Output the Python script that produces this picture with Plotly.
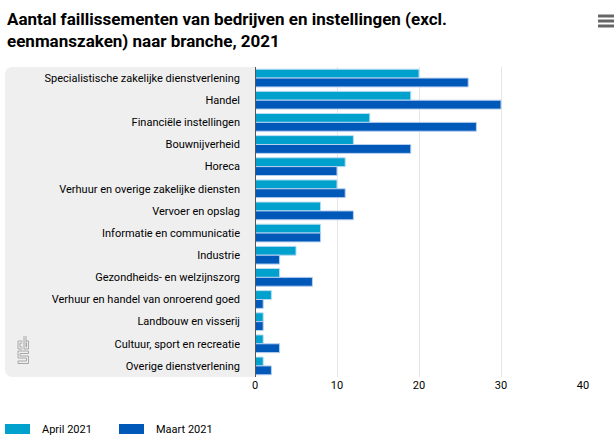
import plotly.graph_objects as go

categories = [
    "Specialistische zakelijke dienstverlening",
    "Handel",
    "Financiële instellingen",
    "Bouwnijverheid",
    "Horeca",
    "Verhuur en overige zakelijke diensten",
    "Vervoer en opslag",
    "Informatie en communicatie",
    "Industrie",
    "Gezondheids- en welzijnszorg",
    "Verhuur en handel van onroerend goed",
    "Landbouw en visserij",
    "Cultuur, sport en recreatie",
    "Overige dienstverlening",
]
april_2021 = [20, 19, 14, 12, 11, 10, 8, 8, 5, 3, 2, 1, 1, 1]
maart_2021 = [26, 30, 27, 19, 10, 11, 12, 8, 3, 7, 1, 1, 3, 2]
x_ticks = [0, 10, 20, 30, 40]
series_names = ["April 2021", "Maart 2021"]
series_colors = ["#00a1cd", "#0058b8"]

FONT = "Liberation Sans Narrow, Roboto, sans-serif"
W, H = 615, 442
L, R, T, B = 255, 32, 67, 65
pw = W - L - R
ph = H - T - B

def px(x):
    return (x - L) / pw

def py(y):
    return 1 - (y - T) / ph

fig = go.Figure()
for name, vals, col, edge in zip(series_names, [april_2021, maart_2021],
                                 series_colors, ["#b8dcf2", "#b8d0f0"]):
    fig.add_trace(go.Bar(
        y=categories, x=vals, name=name, orientation="h", showlegend=False,
        marker=dict(color=col, line=dict(color=edge, width=1)),
    ))

shapes = []
# grey label panel with rounded left corners
x0, x1 = px(5), px(255)
y0, y1 = py(377), py(67)
rx = 8 / pw
ry = 8 / ph
path = (f"M {x1},{y1} L {x0+rx},{y1} Q {x0},{y1} {x0},{y1-ry} "
        f"L {x0},{y0+ry} Q {x0},{y0} {x0+rx},{y0} L {x1},{y0} Z")
shapes.append(dict(type="path", path=path, xref="paper", yref="paper",
                   fillcolor="#efefef", line=dict(width=0), layer="below"))
# cbs logo (approximation)
lc = "#a8a8a8"
def poly(pts, width=1):
    d = "M " + " L ".join(f"{px(a)},{py(b)}" for a, b in pts)
    shapes.append(dict(type="path", path=d, xref="paper", yref="paper",
                       line=dict(color=lc, width=width)))
# c
poly([(22.5, 341), (18, 341), (18, 349), (22.5, 349)])
poly([(22.5, 343), (20, 343), (20, 347), (22.5, 347)])
# b
poly([(24, 336), (24, 349), (28.5, 349), (28.5, 341), (26, 341)])
poly([(26, 336), (26, 347), (26.5, 347), (26.5, 343)])
# s
poly([(28.5, 351), (18, 351), (18, 358), (26.5, 358), (26.5, 361), (18, 361), (18, 363.5), (28.5, 363.5), (28.5, 356), (20, 356), (20, 353.5), (28.5, 353.5), (28.5, 351)])
# left axis line
shapes.append(dict(type="line", xref="x", yref="paper", x0=0, x1=0, y0=0, y1=1,
                   line=dict(color="#555555", width=2)))
# hamburger menu
for yy in (16, 21, 26):
    shapes.append(dict(type="line", xref="paper", yref="paper",
                       x0=px(598), x1=px(614), y0=py(yy), y1=py(yy),
                       line=dict(color="#666666", width=3)))
# legend swatches
legend_x = [5, 119]
for lx, nm, col in zip(legend_x, series_names, series_colors):
    shapes.append(dict(type="rect", xref="paper", yref="paper",
                       x0=px(lx), x1=px(lx + 25), y0=py(434), y1=py(424),
                       fillcolor=col, line=dict(width=0)))

fig.update_layout(
    width=W, height=H,
    margin=dict(l=L, r=R, t=T, b=B, autoexpand=False),
    paper_bgcolor="white", plot_bgcolor="white",
    font=dict(family=FONT, size=11, color="#000000"),
    barmode="group", bargap=0.2, bargroupgap=0.0,
    showlegend=False,
    xaxis=dict(range=[0, 40], tickvals=x_ticks, showgrid=True, automargin=False,
               gridcolor="#e6e6e6", gridwidth=1, zeroline=False,
               ticks="", tickfont=dict(size=11, color="#000000"), fixedrange=True),
    yaxis=dict(autorange="reversed", showgrid=False, ticks="", ticklabelstandoff=14,
               automargin=False,
               tickfont=dict(size=11, color="#000000"), fixedrange=True),
    shapes=shapes,
)
for lx, nm in zip(legend_x, series_names):
    fig.add_annotation(text=nm, xref="paper", yref="paper", x=px(lx + 35), y=py(429),
                       xanchor="left", yanchor="middle", showarrow=False,
                       font=dict(family=FONT, size=11, color="#000000"))
fig.add_annotation(
    text="<b>Aantal faillissementen van bedrijven en instellingen (excl.<br>eenmanszaken) naar branche, 2021</b>",
    xref="paper", yref="paper", x=px(5), y=py(7), xanchor="left", yanchor="top",
    align="left", showarrow=False,
    font=dict(family=FONT, size=17, color="#000000"))

fig.write_html("out.html")
